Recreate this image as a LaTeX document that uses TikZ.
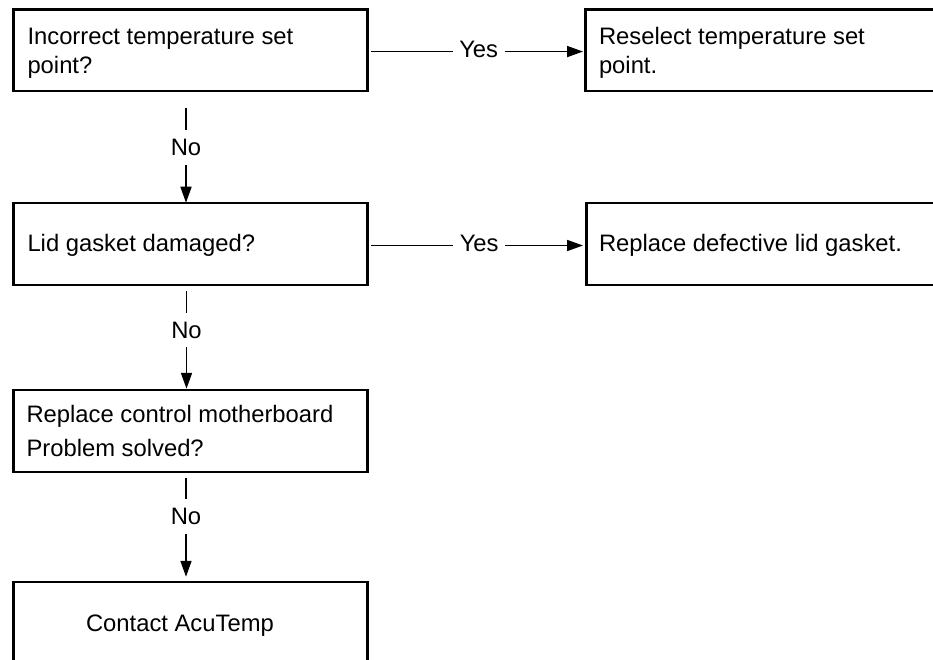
\documentclass[tikz,border=0pt]{standalone}
\usepackage{fontspec}
\setmainfont{Liberation Sans}
\usetikzlibrary{arrows.meta}
\tikzset{
  box/.style={draw=black, line width=2.2pt, rectangle, inner sep=0pt, outer sep=0pt,
    minimum width=354pt, minimum height=81.5pt},
  rbox/.style={box, minimum width=364pt},
  txt/.style={anchor=base west, inner sep=0pt, outer sep=0pt, text=black,
    font=\fontsize{23.8}{28}\selectfont},
  conn/.style={draw=black, line width=1.7pt, -{Triangle[length=16pt, width=11pt]}},
  lab/.style={fill=white, inner xsep=6.5pt, inner ysep=9pt, text=black,
    font=\fontsize{23.8}{28}\selectfont},
}
\begin{document}
\begin{tikzpicture}[x=1pt, y=-1pt]
\useasboundingbox (0,0) rectangle (933,660);
\clip (0,0) rectangle (933,660);
% boxes
\node[box]  (b1) at (190.5, 50.25) {};
\node[box]  (b2) at (190.5, 244) {};
\node[box]  (b3) at (190.5, 431) {};
\node[box]  (b4) at (190.5, 622.5) {};
\node[rbox] (r1) at (767.5, 50.25) {};
\node[rbox] (r2) at (768.5, 244) {};
% texts
\node[txt] (t1a) at (27.5, 45) {Incorrect temperature set};
\node[txt] (t1b) at (27.5, 73.3) {point?};
\node[txt] (t2)  at (27.5, 251.7) {Lid gasket damaged?};
\node[txt] (t3a) at (26.5, 422.7) {Replace control motherboard};
\node[txt] (t3b) at (26.5, 456.7) {Problem solved?};
\node[txt] (t4)  at (86, 631.7) {Contact AcuTemp};
\node[txt] (tr1a) at (599, 45) {Reselect temperature set};
\node[txt] (tr1b) at (599, 73.3) {point.};
\node[txt] (tr2) at (599, 251.7) {Replace defective lid gasket.};
% Yes connectors
\draw[conn, shorten <=3.5pt, shorten >=2.5pt]
  ([yshift=-1.3pt]b1.east) -- ([yshift=-1.3pt]r1.west)
  node[lab, pos=0.51, yshift=2.5pt] (y1) {Yes};
\draw[conn, shorten <=3.5pt, shorten >=3.5pt]
  ([yshift=-1.5pt]b2.east) -- ([yshift=-1.5pt]r2.west)
  node[lab, pos=0.51, yshift=2.5pt] (y2) {Yes};
% No connectors
\draw[conn, shorten <=17pt, shorten >=0.5pt]
  ([xshift=-4.5pt]b1.south) -- ([xshift=-4.5pt]b2.north)
  node[lab, pos=0.504] (n1) {No};
\draw[conn, shorten <=6.5pt, shorten >=1.5pt]
  ([xshift=-4pt]b2.south) -- ([xshift=-4pt]b3.north)
  node[lab, pos=0.4286] (n2) {No};
\draw[conn, shorten <=6pt, shorten >=5pt]
  ([xshift=-4.5pt]b3.south) -- ([xshift=-4.5pt]b4.north)
  node[lab, pos=0.409] (n3) {No};
\end{tikzpicture}
\end{document}
